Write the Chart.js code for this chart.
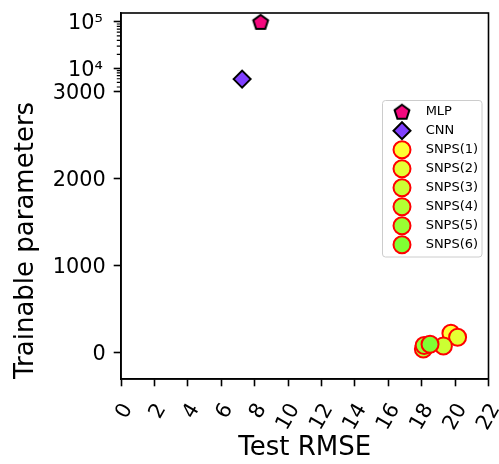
<!DOCTYPE html>
<html>
<head>
<meta charset="utf-8">
<script src="https://cdn.jsdelivr.net/npm/chart.js@4.4.1/dist/chart.umd.min.js"></script>
<style>
  html, body { margin: 0; padding: 0; background: #fff; }
</style>
</head>
<body>
<canvas id="chart" width="499" height="464"></canvas>
<script>
// --- data ---
const modelNames = ['MLP', 'CNN', 'SNPS(1)', 'SNPS(2)', 'SNPS(3)', 'SNPS(4)', 'SNPS(5)', 'SNPS(6)'];
const testRmse = [8.36, 7.25, 19.75, 20.15, 19.3, 18.1, 18.15, 18.5];
const trainableParams = [100000, 5900, 225, 180, 80, 45, 85, 100];
const markerColors = ['#f5087e', '#8040ff', '#ffff33', '#e6ff33', '#ccff33', '#b3ff33', '#99ff33', '#80ff33'];
const edgeColors = ['#000000', '#000000', '#ff0000', '#ff0000', '#ff0000', '#ff0000', '#ff0000', '#ff0000'];
const markerShapes = ['pentagon', 'rectRot', 'circle', 'circle', 'circle', 'circle', 'circle', 'circle'];

const yMajorTicks = [0, 1000, 2000, 3000, 10000, 100000];
const yTickLabels = ['0', '1000', '2000', '3000', '10⁴', '10⁵'];
const yMinorTicks = [4000, 5000, 6000, 7000, 8000, 9000,
    20000, 30000, 40000, 50000, 60000, 70000, 80000, 90000];

// broken y axis: linear up to 3000, log above (1 unit = 1 decade)
const LIN_TOP = 3000;
const LIN_SPAN = 5.607;
const LOG_START = 3.5;

function toAxis(v) {
    if (v <= LIN_TOP) return v / LIN_TOP * LIN_SPAN;
    return LIN_SPAN + Math.log10(v) - LOG_START;
}

function pentagonImage(fill, edge, r, lw) {
    const size = 2 * Math.ceil(r + lw);
    const c = document.createElement('canvas');
    c.width = c.height = size;
    const g = c.getContext('2d');
    g.beginPath();
    for (let k = 0; k < 5; k++) {
        const a = -Math.PI / 2 + k * 2 * Math.PI / 5;
        const px = size / 2 + r * Math.cos(a);
        const py = size / 2 + 0.8 + r * Math.sin(a);
        if (k === 0) g.moveTo(px, py); else g.lineTo(px, py);
    }
    g.closePath();
    g.fillStyle = fill;
    g.fill();
    g.lineWidth = lw;
    g.strokeStyle = edge;
    g.stroke();
    return c;
}

// later series are painted on top, as in the original
const datasets = modelNames.map((name, i) => ({
    label: name,
    order: modelNames.length - i,
    data: [{ x: testRmse[i], y: toAxis(trainableParams[i]) }],
    backgroundColor: markerColors[i],
    borderColor: edgeColors[i],
    borderWidth: 2,
    pointRadius: 8.5,
    pointStyle: markerShapes[i] === 'pentagon'
        ? pentagonImage(markerColors[i], edgeColors[i], 7.8, 2)
        : markerShapes[i]
}));

// legend sits inside the plot, like the matplotlib one
const LEGEND_LEFT = 389.5;
const LEGEND_TOP = 99.2;

const legendPlacer = {
    id: 'legendPlacer',
    afterLayout(chart) {
        const lg = chart.legend;
        const w = lg.width, h = lg.height;
        lg.left = LEGEND_LEFT;
        lg.top = LEGEND_TOP;
        lg.right = LEGEND_LEFT + w;
        lg.bottom = LEGEND_TOP + h;
        lg.adjustHitBoxes();
    },
    beforeDraw(chart) {
        const ctx = chart.ctx;
        ctx.save();
        ctx.beginPath();
        ctx.roundRect(382.5, 100.5, 99.5, 156.5, 3);
        ctx.fillStyle = 'rgba(255,255,255,0.8)';
        ctx.fill();
        ctx.strokeStyle = '#cccccc';
        ctx.lineWidth = 1;
        ctx.stroke();
        ctx.restore();
    }
};

const frameAndMinorTicks = {
    id: 'frameAndMinorTicks',
    afterDraw(chart) {
        const { ctx, chartArea } = chart;
        const y = chart.scales.y;
        ctx.save();
        ctx.strokeStyle = '#000';
        ctx.lineWidth = 1.6;
        ctx.strokeRect(chartArea.left, chartArea.top, chartArea.right - chartArea.left, chartArea.bottom - chartArea.top);
        ctx.lineWidth = 1.2;
        ctx.beginPath();
        yMinorTicks.forEach(v => {
            const py = y.getPixelForValue(toAxis(v));
            ctx.moveTo(chartArea.left - 4.2, py);
            ctx.lineTo(chartArea.left, py);
        });
        ctx.stroke();
        ctx.restore();
    }
};

function noPadding(scale) {
    scale.paddingLeft = 0;
    scale.paddingRight = 0;
    scale.paddingTop = 0;
    scale.paddingBottom = 0;
}

// linear-part labels on the main axis, power labels on a zero-width inner axis
const isLinearTick = v => v <= LIN_TOP;

Chart.defaults.font.family = '"DejaVu Sans", sans-serif';
Chart.defaults.color = '#000';

new Chart(document.getElementById('chart'), {
    type: 'scatter',
    data: { datasets },
    plugins: [legendPlacer, frameAndMinorTicks],
    options: {
        responsive: false,
        animation: false,
        devicePixelRatio: 1,
        layout: { padding: { top: 13, right: 10, left: 0, bottom: 0 } },
        plugins: {
            tooltip: { enabled: false },
            legend: {
                position: 'chartArea',
                align: 'start',
                labels: {
                    usePointStyle: true,
                    boxHeight: 12,
                    padding: 6,
                    color: '#000',
                    font: { size: 13 },
                    sort: (a, b) => a.datasetIndex - b.datasetIndex,
                    generateLabels(chart) {
                        const items = Chart.defaults.plugins.legend.labels.generateLabels(chart);
                        items.forEach(it => { it.text = '\u2002 ' + it.text; });
                        return items;
                    }
                }
            }
        },
        scales: {
            x: {
                type: 'linear',
                min: 0,
                max: 22,
                afterFit(scale) { scale.height = 85; noPadding(scale); },
                border: { display: true, color: '#000', width: 1.6 },
                grid: { drawOnChartArea: false, tickLength: 7.3, tickColor: '#000', tickWidth: 1.6 },
                ticks: {
                    stepSize: 2,
                    autoSkip: false,
                    minRotation: 60,
                    maxRotation: 60,
                    labelOffset: 7,
                    padding: 13,
                    font: { size: 20.8 }
                },
                title: {
                    display: true,
                    text: 'Test RMSE',
                    font: { size: 26 },
                    padding: { top: 0, bottom: 0 }
                }
            },
            y: {
                type: 'linear',
                position: 'left',
                weight: 1,
                min: toAxis(-300),
                max: toAxis(155000),
                afterFit(scale) { scale.width = 121; noPadding(scale); },
                afterBuildTicks(scale) {
                    scale.ticks = yMajorTicks.map(v => ({ value: toAxis(v) }));
                },
                border: { display: true, color: '#000', width: 1.6 },
                grid: { drawOnChartArea: false, tickLength: 7.3, tickColor: '#000', tickWidth: 1.6 },
                ticks: {
                    padding: 8,
                    labelOffset: 2,
                    font: { size: 20.8 },
                    callback: (value, index) => isLinearTick(yMajorTicks[index]) ? yTickLabels[index] : ''
                },
                title: {
                    display: true,
                    text: 'Trainable parameters',
                    align: 'start',
                    font: { size: 26 },
                    padding: { top: 10.5, bottom: 0 }
                }
            },
            yExp: {
                type: 'linear',
                position: 'left',
                weight: 0,
                min: toAxis(-300),
                max: toAxis(155000),
                afterFit(scale) { scale.width = 0; noPadding(scale); },
                afterBuildTicks(scale) {
                    scale.ticks = yMajorTicks.map(v => ({ value: toAxis(v) }));
                },
                border: { display: false },
                grid: { display: false },
                ticks: {
                    mirror: true,
                    padding: -53,
                    labelOffset: 2,
                    font: { size: 20.8 },
                    callback: (value, index) => isLinearTick(yMajorTicks[index]) ? '' : yTickLabels[index]
                }
            }
        }
    }
});
</script>
</body>
</html>
